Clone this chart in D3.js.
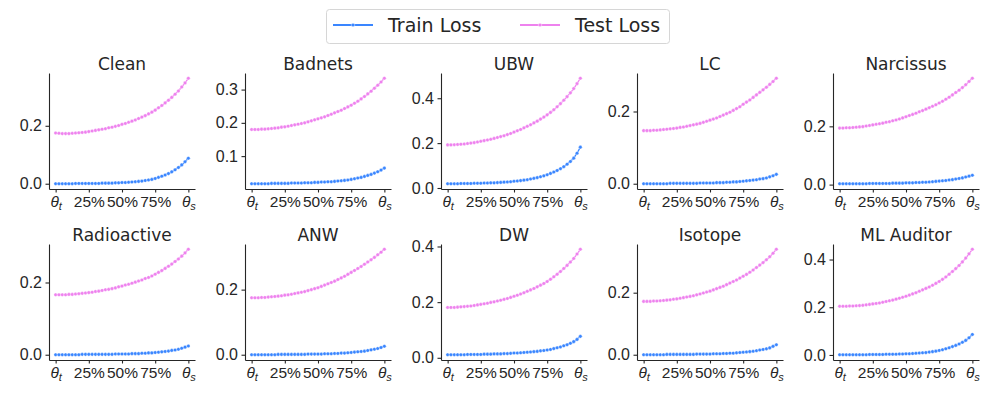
<!DOCTYPE html>
<html>
<head>
<meta charset="utf-8">
<script src="https://cdn.jsdelivr.net/npm/d3@7"></script>
<style>
  body { margin: 0; background: #fff; }
  svg { font-family: "DejaVu Sans", sans-serif; }
</style>
</head>
<body>
<div id="chart"></div>
<script>
// panel names, in reading order
const panels = ["Clean", "Badnets", "UBW", "LC", "Narcissus",
                "Radioactive", "ANW", "DW", "Isotope", "ML Auditor"];

const xTickLabels = ["θt", "25%", "50%", "75%", "θs"];
const xTickSteps = [0, 10, 20, 30, 40];

const yTicks = [
  [0.0, 0.2], [0.1, 0.2, 0.3], [0.0, 0.2, 0.4], [0.0, 0.2], [0.0, 0.2],
  [0.0, 0.2], [0.0, 0.2], [0.0, 0.2, 0.4], [0.0, 0.2], [0.0, 0.2, 0.4]
];

// train loss along the path, 41 steps each
const trainLoss = [
  [0.000,0.000,0.000,0.000,0.000,0.000,0.001,0.001,0.001,0.001,0.001,
   0.001,0.001,0.001,0.002,0.002,0.002,0.002,0.003,0.003,0.004,
   0.004,0.005,0.006,0.007,0.008,0.009,0.011,0.013,0.015,0.018,
   0.022,0.026,0.030,0.035,0.041,0.048,0.056,0.065,0.076,0.088],
  [0.017,0.017,0.017,0.017,0.017,0.017,0.018,0.018,0.018,0.018,0.018,
   0.018,0.019,0.019,0.019,0.019,0.020,0.020,0.020,0.021,0.021,
   0.022,0.022,0.023,0.023,0.024,0.025,0.026,0.027,0.028,0.030,
   0.032,0.034,0.036,0.039,0.042,0.045,0.049,0.053,0.058,0.064],
  [0.019,0.019,0.019,0.019,0.020,0.020,0.020,0.020,0.021,0.021,0.021,
   0.022,0.022,0.023,0.023,0.024,0.025,0.026,0.027,0.028,0.030,
   0.031,0.033,0.035,0.037,0.040,0.043,0.046,0.050,0.054,0.059,
   0.065,0.071,0.078,0.086,0.095,0.106,0.118,0.133,0.155,0.182],
  [0.000,0.000,0.000,0.000,0.000,0.000,0.000,0.000,0.001,0.001,0.001,
   0.001,0.001,0.001,0.001,0.001,0.001,0.002,0.002,0.002,0.002,
   0.002,0.003,0.003,0.003,0.004,0.004,0.005,0.005,0.006,0.007,
   0.008,0.009,0.010,0.011,0.013,0.014,0.016,0.019,0.022,0.026],
  [0.003,0.003,0.003,0.003,0.003,0.003,0.003,0.003,0.003,0.004,0.004,
   0.004,0.004,0.004,0.004,0.004,0.005,0.005,0.005,0.005,0.006,
   0.006,0.006,0.007,0.007,0.008,0.008,0.009,0.010,0.011,0.012,
   0.013,0.014,0.016,0.017,0.019,0.021,0.023,0.026,0.029,0.032],
  [0.000,0.000,0.000,0.000,0.000,0.000,0.000,0.000,0.001,0.001,0.001,
   0.001,0.001,0.001,0.001,0.001,0.001,0.001,0.002,0.002,0.002,
   0.002,0.002,0.003,0.003,0.003,0.004,0.004,0.005,0.005,0.006,
   0.007,0.008,0.009,0.010,0.012,0.013,0.015,0.018,0.021,0.024],
  [0.000,0.000,0.000,0.000,0.000,0.000,0.000,0.000,0.001,0.001,0.001,
   0.001,0.001,0.001,0.001,0.001,0.001,0.002,0.002,0.002,0.002,
   0.002,0.003,0.003,0.003,0.004,0.004,0.005,0.005,0.006,0.007,
   0.008,0.009,0.010,0.011,0.013,0.015,0.017,0.019,0.022,0.026],
  [0.011,0.011,0.011,0.011,0.011,0.011,0.012,0.012,0.012,0.012,0.012,
   0.013,0.013,0.013,0.014,0.014,0.014,0.015,0.015,0.016,0.017,
   0.017,0.018,0.019,0.020,0.021,0.022,0.023,0.025,0.026,0.028,
   0.030,0.033,0.036,0.039,0.043,0.047,0.052,0.058,0.066,0.077],
  [0.000,0.000,0.000,0.000,0.000,0.000,0.000,0.001,0.001,0.001,0.001,
   0.001,0.001,0.001,0.001,0.001,0.002,0.002,0.002,0.002,0.002,
   0.003,0.003,0.003,0.004,0.004,0.005,0.005,0.006,0.007,0.008,
   0.009,0.010,0.011,0.013,0.015,0.017,0.019,0.022,0.027,0.032],
  [0.001,0.001,0.001,0.001,0.001,0.001,0.001,0.001,0.001,0.002,0.002,
   0.002,0.002,0.002,0.003,0.003,0.003,0.003,0.004,0.004,0.005,
   0.005,0.006,0.007,0.008,0.009,0.010,0.012,0.014,0.016,0.019,
   0.022,0.026,0.030,0.035,0.040,0.046,0.053,0.061,0.072,0.086]
];

// test loss along the path, 41 steps each
const testLoss = [
  [0.175,0.174,0.173,0.173,0.173,0.174,0.175,0.176,0.177,0.178,0.180,
   0.182,0.184,0.186,0.188,0.190,0.193,0.195,0.198,0.201,0.205,
   0.208,0.212,0.216,0.220,0.225,0.230,0.235,0.241,0.247,0.254,
   0.262,0.270,0.279,0.288,0.298,0.309,0.320,0.334,0.348,0.364],
  [0.180,0.180,0.180,0.181,0.181,0.182,0.183,0.184,0.185,0.187,0.188,
   0.190,0.192,0.194,0.196,0.198,0.200,0.203,0.206,0.209,0.212,
   0.215,0.218,0.222,0.226,0.230,0.234,0.238,0.243,0.248,0.253,
   0.259,0.265,0.272,0.279,0.287,0.295,0.304,0.313,0.323,0.334],
  [0.192,0.192,0.193,0.194,0.195,0.196,0.198,0.200,0.202,0.205,0.208,
   0.211,0.214,0.217,0.221,0.225,0.229,0.233,0.238,0.243,0.249,
   0.255,0.261,0.268,0.275,0.282,0.290,0.298,0.307,0.316,0.326,
   0.337,0.349,0.362,0.376,0.391,0.407,0.424,0.443,0.465,0.489],
  [0.147,0.147,0.147,0.148,0.148,0.149,0.150,0.151,0.152,0.153,0.154,
   0.156,0.157,0.159,0.161,0.163,0.165,0.167,0.170,0.173,0.176,
   0.179,0.182,0.186,0.190,0.194,0.198,0.203,0.208,0.213,0.220,
   0.226,0.232,0.239,0.246,0.253,0.260,0.267,0.275,0.283,0.292],
  [0.194,0.194,0.195,0.195,0.196,0.197,0.198,0.199,0.201,0.203,0.205,
   0.207,0.209,0.211,0.214,0.216,0.219,0.222,0.225,0.229,0.233,
   0.237,0.241,0.245,0.250,0.254,0.259,0.264,0.269,0.274,0.280,
   0.286,0.293,0.300,0.308,0.316,0.324,0.333,0.343,0.354,0.365],
  [0.166,0.166,0.166,0.166,0.167,0.167,0.168,0.169,0.170,0.171,0.172,
   0.173,0.175,0.176,0.178,0.180,0.181,0.183,0.185,0.188,0.190,
   0.193,0.195,0.198,0.201,0.204,0.207,0.211,0.214,0.218,0.223,
   0.228,0.233,0.239,0.245,0.251,0.258,0.265,0.273,0.282,0.292],
  [0.175,0.175,0.175,0.176,0.176,0.177,0.178,0.179,0.180,0.181,0.183,
   0.184,0.186,0.188,0.190,0.192,0.194,0.197,0.200,0.203,0.206,
   0.210,0.214,0.218,0.222,0.226,0.231,0.236,0.241,0.247,0.253,
   0.259,0.265,0.271,0.278,0.285,0.292,0.299,0.307,0.315,0.324],
  [0.181,0.181,0.181,0.182,0.183,0.184,0.185,0.186,0.188,0.190,0.192,
   0.194,0.196,0.199,0.201,0.204,0.207,0.210,0.213,0.217,0.221,
   0.225,0.229,0.234,0.239,0.244,0.249,0.255,0.261,0.267,0.274,
   0.282,0.291,0.300,0.310,0.321,0.332,0.344,0.357,0.373,0.390],
  [0.172,0.172,0.172,0.173,0.173,0.174,0.175,0.176,0.177,0.179,0.180,
   0.182,0.184,0.186,0.188,0.190,0.193,0.196,0.199,0.202,0.205,
   0.209,0.213,0.217,0.221,0.226,0.231,0.236,0.241,0.247,0.253,
   0.259,0.266,0.273,0.281,0.289,0.297,0.306,0.316,0.327,0.340],
  [0.204,0.204,0.204,0.205,0.205,0.206,0.207,0.208,0.210,0.212,0.214,
   0.216,0.218,0.221,0.224,0.227,0.230,0.234,0.238,0.242,0.246,
   0.251,0.256,0.261,0.267,0.273,0.279,0.285,0.292,0.300,0.308,
   0.317,0.327,0.338,0.350,0.362,0.375,0.390,0.406,0.424,0.443]
];

const seriesNames = ["Train Loss", "Test Loss"];
const colors = ["#3a86ff", "#ee82ee"];
const ink = "#262626";

const W = 997, H = 399;
const cellW = 146, cellH = 116;
const colLeft = i => 49 + 196 * i;
const rowTop = [73, 244];

const svg = d3.select("#chart").append("svg")
  .attr("width", W).attr("height", H);

panels.forEach((name, p) => {
  const col = p % 5, row = Math.floor(p / 5);
  const g = svg.append("g")
    .attr("transform", `translate(${colLeft(col)},${rowTop[row]})`);

  const all = trainLoss[p].concat(testLoss[p]);
  const lo = d3.min(all), hi = d3.max(all), pad = (hi - lo) * 0.05;

  const x = d3.scaleLinear().domain([-2, 42]).range([0, cellW]);
  const y = d3.scaleLinear().domain([lo - pad, hi + pad]).range([cellH, 0]);

  // y axis
  const ya = g.append("g")
    .call(d3.axisLeft(y).tickValues(yTicks[p]).tickFormat(d3.format(".1f"))
      .tickSizeInner(3.5).tickSizeOuter(0).tickPadding(3.5));
  ya.selectAll("text").style("font-size", "16px").attr("fill", ink);

  // x axis
  const xa = g.append("g")
    .attr("transform", `translate(0,${cellH})`)
    .call(d3.axisBottom(x).tickValues(xTickSteps).tickFormat("")
      .tickSizeInner(3.5).tickSizeOuter(0).tickPadding(3.5));
  xa.selectAll(".tick text").each(function(d, i) {
    const t = d3.select(this).attr("fill", ink).style("font-size", "15.5px");
    const lab = xTickLabels[i];
    if (lab.startsWith("θ")) {
      t.append("tspan").style("font-style", "italic").text("θ");
      t.append("tspan").style("font-style", "italic").style("font-size", "11px")
        .attr("dy", "0.3em").text(lab.slice(1));
    } else {
      t.text(lab);
    }
  });

  [ya, xa].forEach(a => {
    a.select(".domain").attr("stroke", ink).attr("stroke-width", 1.1);
    a.selectAll(".tick line").attr("stroke", ink).attr("stroke-width", 1.1);
  });

  // title
  g.append("text")
    .attr("x", cellW / 2).attr("y", -3.5)
    .attr("text-anchor", "middle")
    .attr("fill", ink)
    .style("font-size", "17px")
    .text(name);

  const line = d3.line().x((d, i) => x(i)).y(d => y(d));
  [trainLoss[p], testLoss[p]].forEach((vals, s) => {
    g.append("path").datum(vals)
      .attr("fill", "none").attr("stroke", colors[s])
      .attr("stroke-width", 1.3).attr("d", line);
    g.append("g").selectAll("circle").data(vals).join("circle")
      .attr("cx", (d, i) => x(i)).attr("cy", d => y(d))
      .attr("r", 1.8).attr("fill", colors[s])
      .attr("stroke", "#fff").attr("stroke-width", 0.4);
  });
});

// legend
const leg = svg.append("g");
leg.append("rect")
  .attr("x", 326.5).attr("y", 9.5).attr("width", 343).attr("height", 34)
  .attr("rx", 3).attr("fill", "#fff").attr("stroke", "#d6d6d6");
const legX = [333, 520];
seriesNames.forEach((n, s) => {
  const lx = legX[s];
  leg.append("line")
    .attr("x1", lx).attr("x2", lx + 40).attr("y1", 25).attr("y2", 25)
    .attr("stroke", colors[s]).attr("stroke-width", 2);
  leg.append("circle")
    .attr("cx", lx + 20).attr("cy", 25).attr("r", 1.8)
    .attr("fill", colors[s]).attr("stroke", "#fff").attr("stroke-width", 0.4);
  leg.append("text")
    .attr("x", lx + 55).attr("y", 32)
    .attr("fill", ink).style("font-size", "19px")
    .text(n);
});
</script>
</body>
</html>
